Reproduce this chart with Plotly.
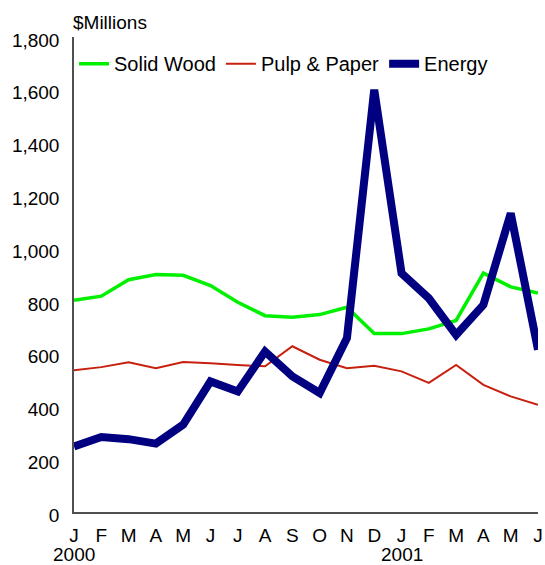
import plotly.graph_objects as go

months = ["J", "F", "M", "A", "M", "J", "J", "A", "S", "O", "N", "D",
          "J", "F", "M", "A", "M", "J"]
year_labels = ["2000", "2001"]
year_positions = [0, 12]

solid_wood = [802, 818, 880, 900, 897, 858, 795, 744, 738, 748, 776, 676,
              676, 694, 726, 905, 853, 830]
pulp_paper = [537, 549, 567, 545, 568, 564, 557, 552, 628, 577, 545, 554,
              533, 489, 557, 482, 438, 406]
energy = [248, 284, 276, 259, 331, 495, 457, 608, 514, 451, 659, 1600,
          905, 810, 671, 785, 1132, 615]

y_ticks = list(range(0, 1801, 200))

x = list(range(len(months)))

FONT = "Liberation Sans, Arial, sans-serif"

fig = go.Figure()
fig.add_trace(go.Scatter(x=x, y=solid_wood, mode="lines", name="Solid Wood",
                         line=dict(color="#00F000", width=3.5)))
fig.add_trace(go.Scatter(x=x, y=pulp_paper, mode="lines", name="Pulp & Paper",
                         line=dict(color="#C8200E", width=2)))
fig.add_trace(go.Scatter(x=x, y=energy, mode="lines", name="Energy",
                         line=dict(color="#000080", width=8)))

annotations = [dict(text="$Millions", xref="paper", yref="paper", x=0, y=1,
                    xanchor="left", yanchor="bottom", showarrow=False,
                    font=dict(size=19), xshift=-3, yshift=2)]
for pos, lab in zip(year_positions, year_labels):
    annotations.append(dict(text=lab, xref="x", yref="paper", x=pos, y=0,
                            xanchor="center", yanchor="top", showarrow=False,
                            font=dict(size=19), yshift=-30))

fig.update_layout(
    width=545, height=565,
    margin=dict(l=74, r=7, t=37, b=53, pad=0),
    paper_bgcolor="white", plot_bgcolor="white",
    font=dict(family=FONT, size=19, color="black"),
    showlegend=True,
    legend=dict(orientation="h", x=0.0, xanchor="left", y=0.985, yanchor="top",
                font=dict(size=20), itemwidth=30, bgcolor="rgba(0,0,0,0)",
                traceorder="normal"),
    xaxis=dict(range=[0, 17], tickvals=x, ticktext=months, showgrid=False,
               zeroline=False, showline=True, linecolor="#505050", linewidth=1.5,
               ticks="outside", ticklen=5, tickcolor="rgba(0,0,0,0)",
               tickangle=0, automargin=False, tickfont=dict(size=19)),
    yaxis=dict(range=[0, 1800], tickvals=y_ticks, tickformat=",d", showgrid=False,
               zeroline=False, showline=True, linecolor="#505050", linewidth=1.5,
               ticks="outside", ticklen=9, tickcolor="rgba(0,0,0,0)",
               ticklabelshift=3,
               automargin=False, tickfont=dict(size=19)),
    annotations=annotations,
)

fig.write_html("out.html")
